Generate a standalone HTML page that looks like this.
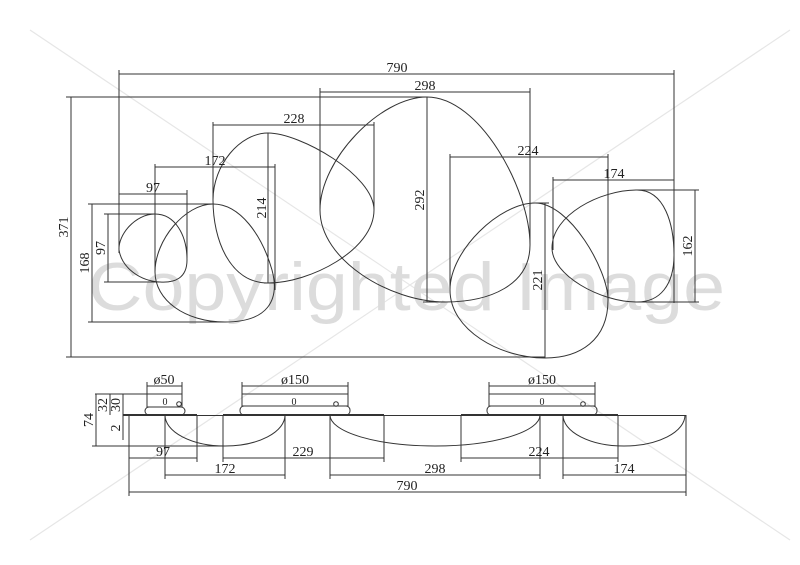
<!DOCTYPE html>
<html><head><meta charset="utf-8"><style>
html,body{margin:0;padding:0;background:#fff;}
svg{display:block;}
text{font-family:"Liberation Serif",serif;font-size:14px;fill:#222;}
</style></head><body>
<svg width="800" height="565" viewBox="0 0 800 565" xmlns="http://www.w3.org/2000/svg">
<!-- watermark -->
<g stroke="#e6e6e6" stroke-width="1.2" fill="none">
<line x1="30" y1="30" x2="790" y2="540"/>
<line x1="790" y1="30" x2="30" y2="540"/>
</g>
<text x="88" y="310" textLength="637" lengthAdjust="spacingAndGlyphs" style="font-family:'Liberation Sans',sans-serif;font-size:68px;fill:#dcdcdc;">Copyrighted Image</text>

<g stroke="#333" stroke-width="1" fill="none">
<!-- overall 790 -->
<line x1="119" y1="74" x2="674" y2="74"/>
<line x1="119" y1="70" x2="119" y2="253"/>
<line x1="674" y1="70" x2="674" y2="303"/>
<!-- 371 -->
<line x1="71" y1="97" x2="71" y2="357"/>
<line x1="66" y1="97" x2="427" y2="97"/>
<line x1="66" y1="357" x2="545" y2="357"/>
<!-- 298 -->
<line x1="320" y1="92" x2="530" y2="92"/>
<line x1="320" y1="88" x2="320" y2="210"/>
<line x1="530" y1="88" x2="530" y2="245"/>
<!-- 228 -->
<line x1="213" y1="125" x2="374" y2="125"/>
<line x1="213" y1="122" x2="213" y2="200"/>
<line x1="374" y1="122" x2="374" y2="210"/>
<!-- 172 -->
<line x1="155" y1="167" x2="275" y2="167"/>
<line x1="155" y1="164" x2="155" y2="272"/>
<line x1="275" y1="164" x2="275" y2="290"/>
<!-- 97 -->
<line x1="119" y1="194" x2="187" y2="194"/>
<line x1="187" y1="190" x2="187" y2="258"/>
<!-- 168 -->
<line x1="92" y1="204" x2="92" y2="322"/>
<line x1="88" y1="204" x2="213" y2="204"/>
<line x1="88" y1="322" x2="225" y2="322"/>
<!-- 97 v -->
<line x1="108" y1="214" x2="108" y2="282"/>
<line x1="104" y1="214" x2="155" y2="214"/>
<line x1="104" y1="282" x2="160" y2="282"/>
<!-- 214 -->
<line x1="268" y1="133" x2="268" y2="283"/>
<line x1="264" y1="283" x2="275" y2="283"/>
<!-- 292 -->
<line x1="427" y1="97" x2="427" y2="302"/>
<line x1="423" y1="302" x2="445" y2="302"/>
<!-- 224 -->
<line x1="450" y1="157" x2="608" y2="157"/>
<line x1="450" y1="154" x2="450" y2="290"/>
<line x1="608" y1="154" x2="608" y2="300"/>
<!-- 174 -->
<line x1="553" y1="180" x2="674" y2="180"/>
<line x1="553" y1="177" x2="553" y2="250"/>
<!-- 221 -->
<line x1="545" y1="203" x2="545" y2="358"/>
<line x1="535" y1="203" x2="549" y2="203"/>
<!-- 162 -->
<line x1="695" y1="190" x2="695" y2="302"/>
<line x1="637" y1="190" x2="699" y2="190"/>
<line x1="637" y1="302" x2="699" y2="302"/>

<!-- shapes -->
<path d="M155,214 C175,214 187,235 187,260 C187,278 175,283 160,282 C140,281 122,268 119,250 C118,235 135,214 155,214 Z"/>
<path d="M213,204 C240,204 262,235 272,270 C280,300 268,322 225,322 C185,322 155,300 155,272 C155,240 185,204 213,204 Z"/>
<path d="M268,133 C300,133 374,175 374,210 C374,250 310,283 268,283 C230,283 213,240 213,200 C213,165 240,133 268,133 Z"/>
<path d="M427,97 C480,97 530,190 530,245 C530,285 490,302 445,302 C390,302 320,260 320,210 C320,160 380,97 427,97 Z"/>
<path d="M535,203 C570,203 608,270 608,300 C608,340 580,358 545,358 C500,358 450,330 450,290 C450,250 500,203 535,203 Z"/>
<path d="M637,190 C665,190 674,225 674,255 C674,285 660,302 637,302 C600,302 552,275 552,248 C552,215 600,190 637,190 Z"/>

<!-- bottom view -->
<line x1="147" y1="386" x2="182" y2="386"/>
<line x1="147" y1="382" x2="147" y2="394"/>
<line x1="182" y1="382" x2="182" y2="394"/>
<line x1="242" y1="386" x2="348" y2="386"/>
<line x1="242" y1="382" x2="242" y2="394"/>
<line x1="348" y1="382" x2="348" y2="394"/>
<line x1="489" y1="386" x2="595" y2="386"/>
<line x1="489" y1="382" x2="489" y2="394"/>
<line x1="595" y1="382" x2="595" y2="394"/>

<line x1="95" y1="394" x2="147" y2="394"/>
<rect x="147" y="394" width="35" height="13"/>
<rect x="145" y="407" width="40" height="8" rx="4"/>
<rect x="242" y="394" width="106" height="12"/>
<rect x="240" y="406" width="110" height="9" rx="4"/>
<rect x="489" y="394" width="106" height="12"/>
<rect x="487" y="406" width="110" height="9" rx="4"/>
<circle cx="179" cy="404" r="2.3"/>
<circle cx="336" cy="404" r="2.3"/>
<circle cx="583" cy="404" r="2.3"/>

<line x1="123" y1="415.5" x2="686" y2="415.5"/>
<line x1="123" y1="415" x2="197" y2="415" stroke-width="2"/>
<line x1="223" y1="415" x2="384" y2="415" stroke-width="2"/>
<line x1="461" y1="415" x2="618" y2="415" stroke-width="2"/>

<path d="M165,415 A60,31 0 0 0 285,415"/>
<path d="M330,415 A105,31 0 0 0 540,415"/>
<path d="M563,415 A61,31 0 0 0 685,415"/>

<line x1="96" y1="394" x2="96" y2="446"/>
<line x1="92" y1="446" x2="225" y2="446"/>
<line x1="110" y1="394" x2="110" y2="415"/>
<line x1="123" y1="394" x2="123" y2="440"/>

<line x1="129" y1="415" x2="129" y2="496"/>
<line x1="197" y1="415" x2="197" y2="462"/>
<line x1="165" y1="415" x2="165" y2="479"/>
<line x1="285" y1="415" x2="285" y2="479"/>
<line x1="223" y1="415" x2="223" y2="462"/>
<line x1="384" y1="415" x2="384" y2="462"/>
<line x1="330" y1="415" x2="330" y2="479"/>
<line x1="540" y1="415" x2="540" y2="479"/>
<line x1="461" y1="415" x2="461" y2="462"/>
<line x1="618" y1="415" x2="618" y2="462"/>
<line x1="563" y1="415" x2="563" y2="479"/>
<line x1="686" y1="415" x2="686" y2="496"/>

<line x1="129" y1="458" x2="197" y2="458"/>
<line x1="223" y1="458" x2="384" y2="458"/>
<line x1="461" y1="458" x2="618" y2="458"/>
<line x1="165" y1="475" x2="285" y2="475"/>
<line x1="330" y1="475" x2="540" y2="475"/>
<line x1="563" y1="475" x2="686" y2="475"/>
<line x1="129" y1="492" x2="686" y2="492"/>
</g>

<!-- labels top -->
<text x="397" y="72" text-anchor="middle">790</text>
<text x="425" y="90" text-anchor="middle">298</text>
<text x="294" y="123" text-anchor="middle">228</text>
<text x="215" y="165" text-anchor="middle">172</text>
<text x="153" y="192" text-anchor="middle">97</text>
<text x="528" y="155" text-anchor="middle">224</text>
<text x="614" y="178" text-anchor="middle">174</text>
<text transform="translate(68,227) rotate(-90)" text-anchor="middle">371</text>
<text transform="translate(89,263) rotate(-90)" text-anchor="middle">168</text>
<text transform="translate(105,248) rotate(-90)" text-anchor="middle">97</text>
<text transform="translate(266,208) rotate(-90)" text-anchor="middle">214</text>
<text transform="translate(424,200) rotate(-90)" text-anchor="middle">292</text>
<text transform="translate(542,280) rotate(-90)" text-anchor="middle">221</text>
<text transform="translate(692,246) rotate(-90)" text-anchor="middle">162</text>

<!-- labels bottom -->
<text x="164" y="384" text-anchor="middle">ø50</text>
<text x="295" y="384" text-anchor="middle">ø150</text>
<text x="542" y="384" text-anchor="middle">ø150</text>
<text x="165" y="405" text-anchor="middle" style="font-size:10px">0</text>
<text x="294" y="405" text-anchor="middle" style="font-size:10px">0</text>
<text x="542" y="405" text-anchor="middle" style="font-size:10px">0</text>
<text transform="translate(93,420) rotate(-90)" text-anchor="middle">74</text>
<text transform="translate(107,405) rotate(-90)" text-anchor="middle">32</text>
<text transform="translate(120,405) rotate(-90)" text-anchor="middle">30</text>
<text transform="translate(120,428) rotate(-90)" text-anchor="middle">2</text>
<text x="163" y="456" text-anchor="middle">97</text>
<text x="303" y="456" text-anchor="middle">229</text>
<text x="539" y="456" text-anchor="middle">224</text>
<text x="225" y="473" text-anchor="middle">172</text>
<text x="435" y="473" text-anchor="middle">298</text>
<text x="624" y="473" text-anchor="middle">174</text>
<text x="407" y="490" text-anchor="middle">790</text>
</svg>
</body></html>
